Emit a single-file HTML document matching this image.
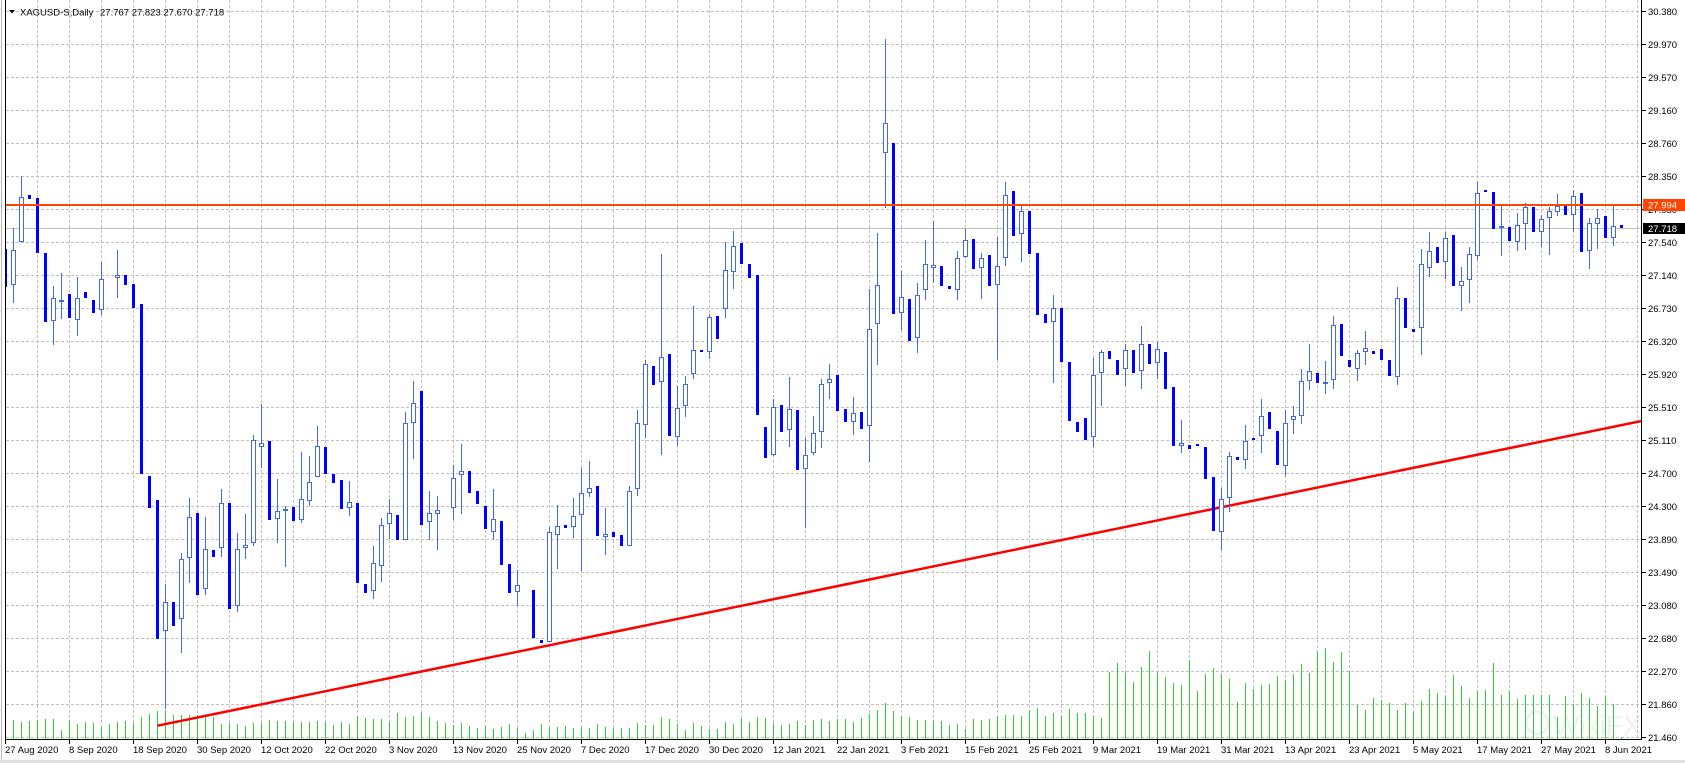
<!DOCTYPE html>
<html><head><meta charset="utf-8"><style>
html,body{margin:0;padding:0;background:#fff;}
svg{display:block;}
text{font-family:"Liberation Sans",Arial,sans-serif;}
</style></head><body>
<svg width="1685" height="763" viewBox="0 0 1685 763" xmlns="http://www.w3.org/2000/svg">
<rect width="1685" height="763" fill="#fff"/>
<rect x="0" y="760" width="1685" height="3" fill="#e0e0e0"/>
<rect x="1" y="0" width="1" height="760" fill="#b8b8b8"/>
<defs><clipPath id="cp"><rect x="5" y="0" width="1636" height="739"/></clipPath></defs>
<!-- grid -->
<g stroke="#c0c0c0" stroke-width="1" stroke-dasharray="3,2" shape-rendering="crispEdges" fill="none">
<path d="M37.5 0V739M69.5 0V739M101.5 0V739M133.5 0V739M165.5 0V739M197.5 0V739M229.5 0V739M261.5 0V739M293.5 0V739M325.5 0V739M357.5 0V739M389.5 0V739M421.5 0V739M453.5 0V739M485.5 0V739M517.5 0V739M549.5 0V739M581.5 0V739M613.5 0V739M645.5 0V739M677.5 0V739M709.5 0V739M741.5 0V739M773.5 0V739M805.5 0V739M837.5 0V739M869.5 0V739M901.5 0V739M933.5 0V739M965.5 0V739M997.5 0V739M1029.5 0V739M1061.5 0V739M1093.5 0V739M1125.5 0V739M1157.5 0V739M1189.5 0V739M1221.5 0V739M1253.5 0V739M1285.5 0V739M1317.5 0V739M1349.5 0V739M1381.5 0V739M1413.5 0V739M1445.5 0V739M1477.5 0V739M1509.5 0V739M1541.5 0V739M1573.5 0V739M1605.5 0V739M1637.5 0V739"/>
<path d="M6 11.5H1641M6 44.5H1641M6 77.5H1641M6 110.5H1641M6 143.5H1641M6 176.5H1641M6 209.5H1641M6 242.5H1641M6 275.5H1641M6 308.5H1641M6 341.5H1641M6 374.5H1641M6 407.5H1641M6 440.5H1641M6 473.5H1641M6 506.5H1641M6 539.5H1641M6 572.5H1641M6 605.5H1641M6 638.5H1641M6 671.5H1641M6 704.5H1641M6 737.5H1641"/>
</g>
<g clip-path="url(#cp)">
<!-- volume -->
<path stroke="#32CD32" stroke-width="1" shape-rendering="crispEdges" fill="none" d="M5.5 719V739M13.5 720V739M21.5 722V739M29.5 721V739M37.5 720V739M45.5 719V739M53.5 719V739M61.5 730V739M69.5 720V739M77.5 724V739M85.5 722V739M93.5 723V739M101.5 727V739M109.5 724V739M117.5 722V739M125.5 721V739M133.5 723V739M141.5 717V739M149.5 714V739M157.5 711V739M165.5 710V739M173.5 715V739M181.5 715V739M189.5 715V739M197.5 715V739M205.5 716V739M213.5 717V739M221.5 724V739M229.5 723V739M237.5 724V739M245.5 726V739M253.5 723V739M261.5 723V739M269.5 720V739M277.5 721V739M285.5 721V739M293.5 722V739M301.5 722V739M309.5 722V739M317.5 721V739M325.5 722V739M333.5 725V739M341.5 722V739M349.5 724V739M357.5 717V739M365.5 718V739M373.5 719V739M381.5 719V739M389.5 722V739M397.5 713V739M405.5 717V739M413.5 716V739M421.5 713V739M429.5 717V739M437.5 721V739M445.5 723V739M453.5 725V739M461.5 723V739M469.5 726V739M477.5 728V739M485.5 726V739M493.5 729V739M501.5 727V739M509.5 724V739M517.5 728V739M525.5 733V739M533.5 730V739M541.5 724V739M549.5 727V739M557.5 727V739M565.5 726V739M573.5 728V739M581.5 727V739M589.5 728V739M597.5 724V739M605.5 727V739M613.5 728V739M621.5 728V739M629.5 728V739M637.5 723V739M645.5 725V739M653.5 725V739M661.5 717V739M669.5 719V739M677.5 724V739M685.5 730V739M693.5 723V739M701.5 726V739M709.5 729V739M717.5 729V739M725.5 722V739M733.5 724V739M741.5 718V739M749.5 722V739M757.5 717V739M765.5 718V739M773.5 723V739M781.5 725V739M789.5 724V739M797.5 721V739M805.5 725V739M813.5 720V739M821.5 719V739M829.5 721V739M837.5 719V739M845.5 719V739M853.5 722V739M861.5 718V739M869.5 714V739M877.5 710V739M885.5 703V739M893.5 711V739M901.5 717V739M909.5 717V739M917.5 720V739M925.5 720V739M933.5 721V739M941.5 721V739M949.5 725V739M957.5 724V739M965.5 729V739M973.5 719V739M981.5 720V739M989.5 719V739M997.5 717V739M1005.5 715V739M1013.5 715V739M1021.5 716V739M1029.5 710V739M1037.5 708V739M1045.5 716V739M1053.5 713V739M1061.5 716V739M1069.5 709V739M1077.5 713V739M1085.5 713V739M1093.5 716V739M1101.5 718V739M1109.5 672V739M1117.5 663V739M1125.5 673V739M1133.5 682V739M1141.5 667V739M1149.5 651V739M1157.5 673V739M1165.5 677V739M1173.5 683V739M1181.5 685V739M1189.5 660V739M1197.5 691V739M1205.5 674V739M1213.5 668V739M1221.5 674V739M1229.5 679V739M1237.5 702V739M1245.5 683V739M1253.5 689V739M1261.5 685V739M1269.5 684V739M1277.5 676V739M1285.5 680V739M1293.5 674V739M1301.5 664V739M1309.5 673V739M1317.5 652V739M1325.5 648V739M1333.5 662V739M1341.5 652V739M1349.5 671V739M1357.5 705V739M1365.5 710V739M1373.5 698V739M1381.5 700V739M1389.5 703V739M1397.5 710V739M1405.5 703V739M1413.5 712V739M1421.5 701V739M1429.5 689V739M1437.5 693V739M1445.5 696V739M1453.5 675V739M1461.5 686V739M1469.5 698V739M1477.5 691V739M1485.5 690V739M1493.5 663V739M1501.5 695V739M1509.5 691V739M1517.5 699V739M1525.5 695V739M1533.5 695V739M1541.5 695V739M1549.5 695V739M1557.5 717V739M1565.5 696V739M1573.5 704V739M1581.5 693V739M1589.5 698V739M1597.5 706V739M1605.5 697V739M1613.5 704V739M1621.5 737V739"/>
<!-- trendline -->
<line x1="157.5" y1="725.7" x2="1641" y2="421.1" stroke="#FF0000" stroke-width="2.5"/>
<!-- current price line -->
<path d="M6 228.5H1641" stroke="#c0c0c0" stroke-width="1" shape-rendering="crispEdges"/>
<!-- wicks (bull) -->
<path stroke="#4169E1" stroke-width="1" shape-rendering="crispEdges" fill="none" d="M13.5 228V303M21.5 176V242M53.5 286V345M61.5 273V319M77.5 277V336M101.5 262V315M117.5 250V298M165.5 584V709M181.5 553V653M189.5 498V583M205.5 517V595M221.5 489V557M237.5 533V612M245.5 514V559M253.5 435V546M261.5 404V468M277.5 479V543M285.5 506V567M301.5 452V523M309.5 456V506M317.5 426V477M349.5 481V516M373.5 546V599M381.5 518V582M389.5 499V539M405.5 412V540M413.5 381V459M429.5 491V540M437.5 496V550M453.5 465V520M461.5 444V514M493.5 489V540M517.5 570V606M549.5 527V642M557.5 505V569M573.5 498V538M581.5 468V571M589.5 461V497M605.5 508V555M629.5 486V546M637.5 410V496M645.5 360V438M661.5 254V455M677.5 386V446M685.5 376V417M693.5 306V379M709.5 314V359M725.5 242V318M733.5 231V289M773.5 399V456M789.5 377V447M805.5 438V528M813.5 416V455M821.5 379V448M829.5 364V399M853.5 397V435M869.5 289V462M877.5 233V365M885.5 39V208M901.5 271V330M917.5 283V353M925.5 240V300M933.5 221V283M957.5 251V300M965.5 229V258M981.5 253V299M997.5 237V360M1005.5 182V266M1021.5 206V262M1053.5 295V383M1093.5 358V447M1101.5 350V406M1125.5 344V386M1141.5 326V389M1157.5 342V379M1181.5 420V453M1221.5 488V550M1229.5 452V512M1245.5 425V469M1261.5 399V453M1285.5 410V476M1293.5 406V434M1301.5 369V424M1309.5 344V390M1325.5 361V394M1333.5 316V389M1357.5 350V381M1365.5 331V365M1397.5 287V385M1421.5 249V355M1429.5 232V277M1445.5 232V279M1461.5 267V311M1469.5 247V303M1477.5 182V260M1501.5 205V256M1517.5 213V251M1525.5 203V250M1541.5 215V247M1549.5 207V255M1557.5 194V216M1573.5 190V232M1589.5 218V269M1597.5 209V249M1613.5 205V246"/>
<!-- bull bodies -->
<path stroke="#4169E1" stroke-width="1" fill="#fff" shape-rendering="crispEdges" d="M11.5 250.5h4V284.5h-4ZM19.5 197.5h4V241.5h-4ZM51.5 298.5h4V320.5h-4ZM59.5 300.5h4V301.5h-4ZM75.5 298.5h4V319.5h-4ZM99.5 279.5h4V309.5h-4ZM115.5 275.5h4V277.5h-4ZM163.5 602.5h4V630.5h-4ZM179.5 559.5h4V618.5h-4ZM187.5 517.5h4V557.5h-4ZM203.5 549.5h4V588.5h-4ZM219.5 503.5h4V547.5h-4ZM235.5 549.5h4V605.5h-4ZM243.5 545.5h4V547.5h-4ZM251.5 440.5h4V542.5h-4ZM259.5 443.5h4V446.5h-4ZM275.5 511.5h4V518.5h-4ZM283.5 509.5h4V510.5h-4ZM299.5 499.5h4V519.5h-4ZM307.5 482.5h4V500.5h-4ZM315.5 446.5h4V476.5h-4ZM347.5 502.5h4V507.5h-4ZM371.5 563.5h4V590.5h-4ZM379.5 525.5h4V565.5h-4ZM387.5 513.5h4V523.5h-4ZM403.5 423.5h4V539.5h-4ZM411.5 403.5h4V422.5h-4ZM427.5 513.5h4V521.5h-4ZM435.5 510.5h4V513.5h-4ZM451.5 478.5h4V507.5h-4ZM459.5 471.5h4V474.5h-4ZM491.5 519.5h4V531.5h-4ZM515.5 585.5h4V591.5h-4ZM547.5 532.5h4V641.5h-4ZM555.5 526.5h4V534.5h-4ZM571.5 516.5h4V526.5h-4ZM579.5 493.5h4V514.5h-4ZM587.5 488.5h4V492.5h-4ZM603.5 534.5h4V536.5h-4ZM627.5 491.5h4V545.5h-4ZM635.5 423.5h4V488.5h-4ZM643.5 364.5h4V424.5h-4ZM659.5 357.5h4V381.5h-4ZM675.5 408.5h4V436.5h-4ZM683.5 384.5h4V405.5h-4ZM691.5 350.5h4V373.5h-4ZM707.5 317.5h4V351.5h-4ZM723.5 270.5h4V308.5h-4ZM731.5 246.5h4V271.5h-4ZM771.5 407.5h4V454.5h-4ZM787.5 409.5h4V429.5h-4ZM803.5 455.5h4V468.5h-4ZM811.5 433.5h4V452.5h-4ZM819.5 384.5h4V431.5h-4ZM827.5 379.5h4V382.5h-4ZM851.5 413.5h4V421.5h-4ZM867.5 329.5h4V425.5h-4ZM875.5 285.5h4V323.5h-4ZM883.5 123.5h4V152.5h-4ZM899.5 297.5h4V312.5h-4ZM915.5 295.5h4V337.5h-4ZM923.5 264.5h4V289.5h-4ZM931.5 265.5h4V267.5h-4ZM955.5 258.5h4V289.5h-4ZM963.5 240.5h4V256.5h-4ZM979.5 258.5h4V267.5h-4ZM995.5 266.5h4V284.5h-4ZM1003.5 195.5h4V257.5h-4ZM1019.5 211.5h4V233.5h-4ZM1051.5 308.5h4V321.5h-4ZM1091.5 375.5h4V436.5h-4ZM1099.5 352.5h4V372.5h-4ZM1123.5 350.5h4V368.5h-4ZM1139.5 344.5h4V370.5h-4ZM1155.5 349.5h4V362.5h-4ZM1179.5 443.5h4V445.5h-4ZM1219.5 499.5h4V531.5h-4ZM1227.5 456.5h4V497.5h-4ZM1243.5 441.5h4V459.5h-4ZM1259.5 416.5h4V435.5h-4ZM1283.5 423.5h4V465.5h-4ZM1291.5 416.5h4V419.5h-4ZM1299.5 381.5h4V415.5h-4ZM1307.5 371.5h4V380.5h-4ZM1323.5 382.5h4V383.5h-4ZM1331.5 325.5h4V379.5h-4ZM1355.5 353.5h4V368.5h-4ZM1363.5 348.5h4V351.5h-4ZM1395.5 298.5h4V376.5h-4ZM1419.5 264.5h4V327.5h-4ZM1427.5 251.5h4V267.5h-4ZM1443.5 238.5h4V261.5h-4ZM1459.5 281.5h4V285.5h-4ZM1467.5 254.5h4V279.5h-4ZM1475.5 193.5h4V255.5h-4ZM1499.5 226.5h4V227.5h-4ZM1515.5 225.5h4V241.5h-4ZM1523.5 207.5h4V223.5h-4ZM1539.5 219.5h4V231.5h-4ZM1547.5 211.5h4V217.5h-4ZM1555.5 206.5h4V211.5h-4ZM1571.5 196.5h4V214.5h-4ZM1587.5 223.5h4V250.5h-4ZM1595.5 218.5h4V223.5h-4ZM1611.5 226.5h4V237.5h-4Z"/>
<!-- bear bodies -->
<path fill="#0000FF" shape-rendering="crispEdges" d="M4 249h3V287h-3ZM28 195h3V199h-3ZM36 198h3V253h-3ZM44 253h3V322h-3ZM68 294h3V318h-3ZM84 292h3V298h-3ZM92 300h3V313h-3ZM124 275h3V285h-3ZM132 284h3V308h-3ZM140 304h3V474h-3ZM148 476h3V508h-3ZM156 500h3V639h-3ZM172 602h3V626h-3ZM196 513h3V595h-3ZM212 550h3V557h-3ZM228 503h3V609h-3ZM268 441h3V520h-3ZM292 507h3V521h-3ZM324 447h3V474h-3ZM332 474h3V483h-3ZM340 480h3V509h-3ZM356 503h3V583h-3ZM364 584h3V593h-3ZM396 515h3V540h-3ZM420 391h3V525h-3ZM468 471h3V493h-3ZM476 491h3V504h-3ZM484 506h3V529h-3ZM500 521h3V565h-3ZM508 564h3V593h-3ZM532 590h3V638h-3ZM540 640h3V643h-3ZM564 525h3V528h-3ZM596 486h3V536h-3ZM612 532h3V537h-3ZM620 535h3V546h-3ZM652 366h3V385h-3ZM668 354h3V436h-3ZM700 350h3V352h-3ZM716 316h3V339h-3ZM740 243h3V264h-3ZM748 264h3V278h-3ZM756 275h3V415h-3ZM764 427h3V458h-3ZM780 405h3V432h-3ZM796 410h3V470h-3ZM836 375h3V411h-3ZM844 409h3V422h-3ZM860 412h3V429h-3ZM892 143h3V314h-3ZM908 299h3V341h-3ZM940 266h3V286h-3ZM948 286h3V289h-3ZM972 239h3V269h-3ZM988 255h3V286h-3ZM1012 191h3V236h-3ZM1028 211h3V254h-3ZM1036 253h3V315h-3ZM1044 314h3V323h-3ZM1060 308h3V362h-3ZM1068 362h3V421h-3ZM1076 422h3V432h-3ZM1084 418h3V440h-3ZM1108 351h3V359h-3ZM1116 360h3V375h-3ZM1132 350h3V373h-3ZM1148 344h3V364h-3ZM1164 352h3V389h-3ZM1172 387h3V446h-3ZM1188 445h3V449h-3ZM1196 444h3V446h-3ZM1204 447h3V479h-3ZM1212 477h3V531h-3ZM1236 457h3V460h-3ZM1252 438h3V440h-3ZM1268 412h3V429h-3ZM1276 431h3V465h-3ZM1316 373h3V383h-3ZM1340 324h3V356h-3ZM1348 360h3V367h-3ZM1372 351h3V354h-3ZM1380 349h3V360h-3ZM1388 360h3V376h-3ZM1404 298h3V328h-3ZM1412 329h3V332h-3ZM1436 247h3V263h-3ZM1452 235h3V286h-3ZM1484 190h3V192h-3ZM1492 192h3V229h-3ZM1508 227h3V241h-3ZM1532 207h3V232h-3ZM1564 206h3V215h-3ZM1580 193h3V252h-3ZM1604 216h3V238h-3ZM1620 225h3V228h-3Z"/>
<!-- horizontal resistance line -->
<rect x="5" y="204" width="1636" height="2" fill="#FF4500"/>
</g>
<!-- watermark -->
<g opacity="0.10" fill="none" stroke="#777" stroke-width="3"><circle cx="1537" cy="723" r="11"/></g>
<text x="1553" y="735" font-size="28" fill="#777" opacity="0.10">WikiFX</text>
<!-- borders -->
<g fill="#000" shape-rendering="crispEdges">
<rect x="5" y="0" width="1" height="740"/>
<rect x="5" y="739" width="1637" height="1"/>
<rect x="1641" y="0" width="1" height="740"/>
</g>
<!-- axis ticks -->
<path stroke="#000" stroke-width="1" shape-rendering="crispEdges" fill="none" d="M1642 11.5H1646M1642 44.5H1646M1642 77.5H1646M1642 110.5H1646M1642 143.5H1646M1642 176.5H1646M1642 209.5H1646M1642 242.5H1646M1642 275.5H1646M1642 308.5H1646M1642 341.5H1646M1642 374.5H1646M1642 407.5H1646M1642 440.5H1646M1642 473.5H1646M1642 506.5H1646M1642 539.5H1646M1642 572.5H1646M1642 605.5H1646M1642 638.5H1646M1642 671.5H1646M1642 704.5H1646M1642 737.5H1646M5.5 740V744M69.5 740V744M133.5 740V744M197.5 740V744M261.5 740V744M325.5 740V744M389.5 740V744M453.5 740V744M517.5 740V744M581.5 740V744M645.5 740V744M709.5 740V744M773.5 740V744M837.5 740V744M901.5 740V744M965.5 740V744M1029.5 740V744M1093.5 740V744M1157.5 740V744M1221.5 740V744M1285.5 740V744M1349.5 740V744M1413.5 740V744M1477.5 740V744M1541.5 740V744M1605.5 740V744"/>
<!-- price labels -->
<g font-size="9.5" fill="#000">
<text x="1648" y="15">30.380</text>
<text x="1648" y="48">29.970</text>
<text x="1648" y="81">29.570</text>
<text x="1648" y="114">29.160</text>
<text x="1648" y="147">28.760</text>
<text x="1648" y="180">28.350</text>
<text x="1648" y="213">27.950</text>
<text x="1648" y="246">27.540</text>
<text x="1648" y="279">27.140</text>
<text x="1648" y="312">26.730</text>
<text x="1648" y="345">26.320</text>
<text x="1648" y="378">25.920</text>
<text x="1648" y="411">25.510</text>
<text x="1648" y="444">25.110</text>
<text x="1648" y="477">24.700</text>
<text x="1648" y="510">24.300</text>
<text x="1648" y="543">23.890</text>
<text x="1648" y="576">23.490</text>
<text x="1648" y="609">23.080</text>
<text x="1648" y="642">22.680</text>
<text x="1648" y="675">22.270</text>
<text x="1648" y="708">21.860</text>
<text x="1648" y="741">21.460</text>
</g>
<rect x="1643" y="199" width="42" height="12" fill="#FF4500"/>
<text x="1648" y="208.5" font-size="9.5" fill="#fff">27.994</text>
<rect x="1643" y="223" width="42" height="11" fill="#000"/>
<text x="1648" y="232" font-size="9.5" fill="#fff">27.718</text>
<!-- date labels -->
<g font-size="9.5" fill="#000">
<text x="5" y="753">27 Aug 2020</text>
<text x="69" y="753">8 Sep 2020</text>
<text x="133" y="753">18 Sep 2020</text>
<text x="197" y="753">30 Sep 2020</text>
<text x="261" y="753">12 Oct 2020</text>
<text x="325" y="753">22 Oct 2020</text>
<text x="389" y="753">3 Nov 2020</text>
<text x="453" y="753">13 Nov 2020</text>
<text x="517" y="753">25 Nov 2020</text>
<text x="581" y="753">7 Dec 2020</text>
<text x="645" y="753">17 Dec 2020</text>
<text x="709" y="753">30 Dec 2020</text>
<text x="773" y="753">12 Jan 2021</text>
<text x="837" y="753">22 Jan 2021</text>
<text x="901" y="753">3 Feb 2021</text>
<text x="965" y="753">15 Feb 2021</text>
<text x="1029" y="753">25 Feb 2021</text>
<text x="1093" y="753">9 Mar 2021</text>
<text x="1157" y="753">19 Mar 2021</text>
<text x="1221" y="753">31 Mar 2021</text>
<text x="1285" y="753">13 Apr 2021</text>
<text x="1349" y="753">23 Apr 2021</text>
<text x="1413" y="753">5 May 2021</text>
<text x="1477" y="753">17 May 2021</text>
<text x="1541" y="753">27 May 2021</text>
<text x="1605" y="753">8 Jun 2021</text>
</g>
<!-- title -->
<polygon points="9,10 15,10 12,13.5" fill="#000"/>
<text x="20" y="15.5" font-size="9.5" fill="#000">XAGUSD-S,Daily</text>
<text x="100" y="15.5" font-size="9.5" fill="#000">27.767 27.823 27.670 27.718</text>
</svg>
</body></html>
